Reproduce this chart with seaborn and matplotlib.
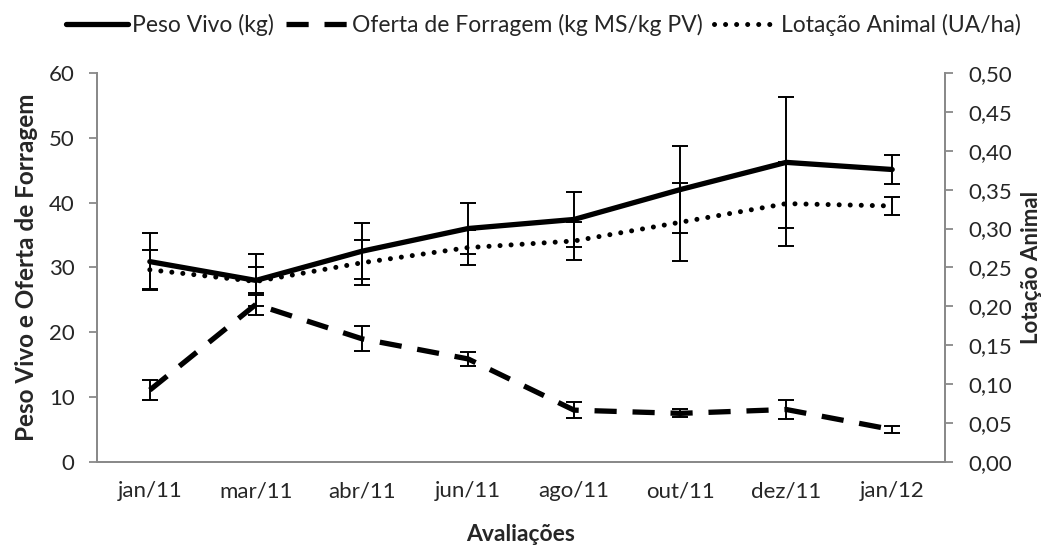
import numpy as np
import pandas as pd
import seaborn as sns
import matplotlib.pyplot as plt
from matplotlib.ticker import FuncFormatter, FixedLocator

# data
meses = ['jan/11', 'mar/11', 'abr/11', 'jun/11', 'ago/11', 'out/11', 'dez/11', 'jan/12']
peso_vivo = [30.9, 28.0, 32.5, 36.0, 37.4, 42.0, 46.2, 45.1]
peso_vivo_err = [4.4, 4.0, 4.3, 3.9, 4.2, 6.7, 10.1, 2.2]
oferta = [11.1, 24.3, 19.0, 15.9, 8.0, 7.5, 8.1, 5.0]
oferta_err = [1.5, 1.7, 1.9, 1.1, 1.2, 0.6, 1.4, 0.5]
lotacao = [0.247, 0.232, 0.256, 0.2755, 0.284, 0.308, 0.332, 0.329]
lotacao_err = [0.025, 0.018, 0.029, 0.022, 0.024, 0.05, 0.054, 0.0115]

df = pd.DataFrame({'mes': meses, 'peso': peso_vivo, 'oferta': oferta, 'lotacao': lotacao})
x = np.arange(len(meses))

sns.set_style('white')
plt.rcParams['font.family'] = ['Lato', 'DejaVu Sans']

fig, ax = plt.subplots(figsize=(10.41, 5.52), dpi=100)
fig.subplots_adjust(left=0.093, right=0.908, top=0.868, bottom=0.163)
ax2 = ax.twinx()

sns.lineplot(data=df, x='mes', y='peso', ax=ax, color='black', lw=3.8, sort=False,
             label='Peso Vivo (kg)', legend=False)
sns.lineplot(data=df, x='mes', y='oferta', ax=ax, color='black', lw=3.8, sort=False,
             dashes=False, label='Oferta de Forragem (kg MS/kg PV)', legend=False)
ax.lines[-1].set_dashes([4.2, 3.0])
sns.lineplot(data=df, x='mes', y='lotacao', ax=ax2, color='black', lw=3.6, sort=False,
             label='Lotação Animal (UA/ha)', legend=False)
ax2.lines[-1].set_dashes([0.01, 2.2])
ax2.lines[-1].set_dash_capstyle('round')

err_kw = dict(fmt='none', ecolor='black', elinewidth=1.4, capsize=6, capthick=1.4)
ax.errorbar(x, peso_vivo, yerr=peso_vivo_err, **err_kw)
ax.errorbar(x, oferta, yerr=oferta_err, **err_kw)
ax2.errorbar(x, lotacao, yerr=lotacao_err, **err_kw)

ax.set_xlim(-0.5, len(meses) - 0.5)
ax.set_ylim(0, 60)
ax.set_yticks(np.arange(0, 61, 10))
ax2.set_ylim(0, 0.5)
ax2.set_yticks(np.arange(0, 0.51, 0.05))
ax2.yaxis.set_major_formatter(FuncFormatter(lambda v, p: f'{v:.2f}'.replace('.', ',')))

# category labels centred, tick marks at the boundaries
ax.xaxis.set_major_locator(FixedLocator(np.arange(-0.5, len(meses), 1.0)))
ax.set_xticklabels([])
ax.xaxis.set_minor_locator(FixedLocator(x))
ax.set_xticklabels(meses, minor=True)
ax.tick_params(axis='x', which='minor', length=0, pad=14, labelsize=16)
ax.tick_params(axis='x', which='major', length=7, color='#898989', width=1.3, direction='out')
ax.tick_params(axis='y', length=6, color='#898989', width=1.3, direction='out', labelsize=16, pad=10)
ax2.tick_params(axis='y', length=6, color='#898989', width=1.3, direction='out', labelsize=16, pad=11)

for a in (ax, ax2):
    a.spines['top'].set_visible(False)
    for s in ('left', 'right', 'bottom'):
        a.spines[s].set_color('#898989')
        a.spines[s].set_linewidth(1.3)

ax.set_xlabel('Avaliações', fontsize=16.5, fontweight='bold', labelpad=16)
ax.set_ylabel('Peso Vivo e Oferta de Forragem', fontsize=17.5, fontweight='bold', labelpad=8)
ax2.set_ylabel('Lotação Animal', fontsize=16, fontweight='bold', labelpad=6)

h1, l1 = ax.get_legend_handles_labels()
h2, l2 = ax2.get_legend_handles_labels()
fig.legend(h1 + h2, l1 + l2, loc='upper center', bbox_to_anchor=(0.522, 1.012), ncol=3,
           frameon=False, fontsize=16.5, handlelength=2.7, handletextpad=0.2, columnspacing=0.5)

plt.savefig('out.png', dpi=100)
